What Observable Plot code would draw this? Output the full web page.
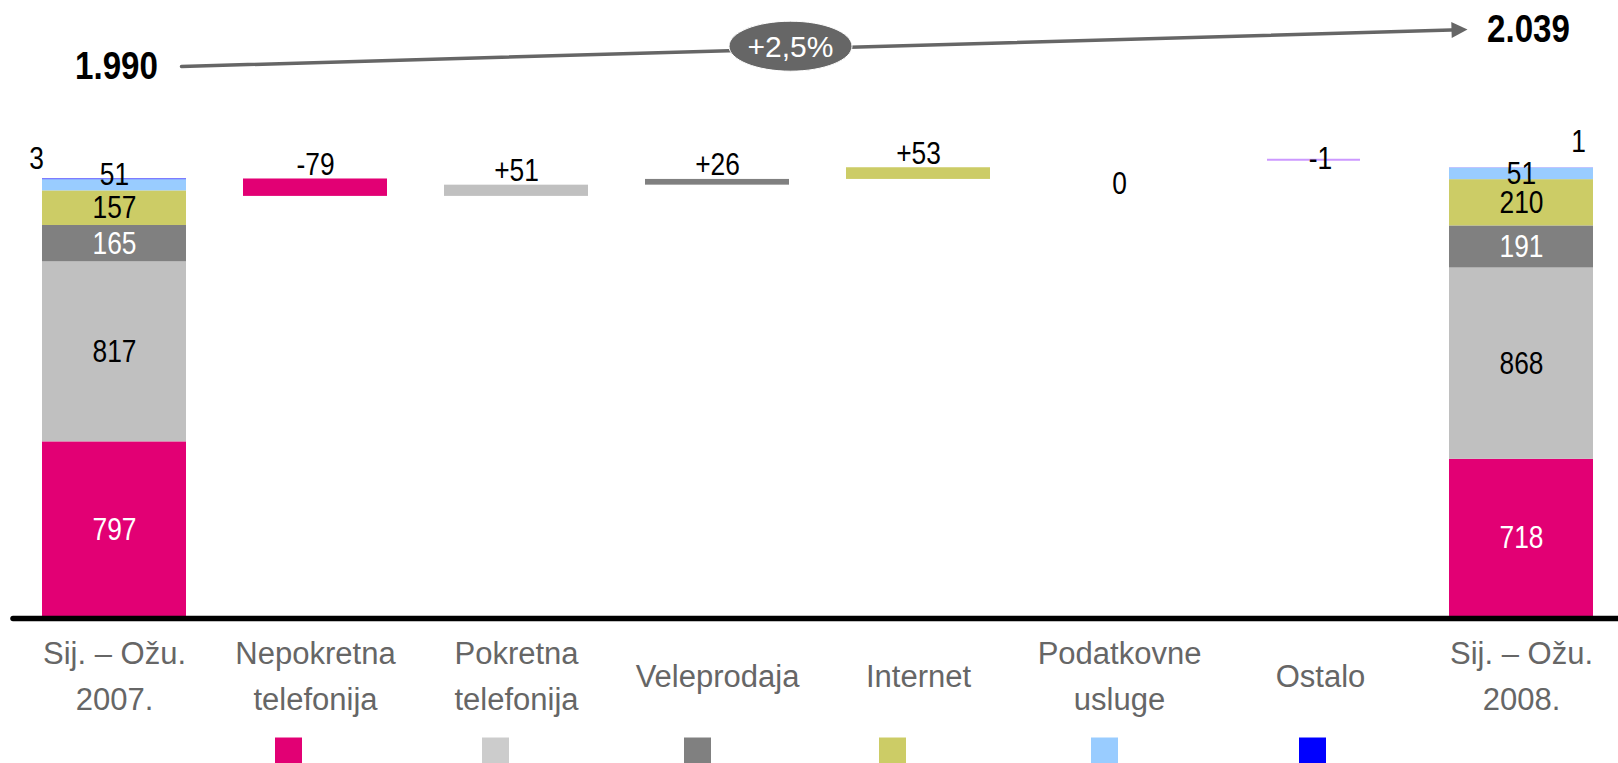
<!DOCTYPE html>
<html><head><meta charset="utf-8">
<script src="https://cdn.jsdelivr.net/npm/d3@7"></script>
<script src="https://cdn.jsdelivr.net/npm/@observablehq/plot@0.6"></script>
<style>
html,body{margin:0;padding:0;background:#fff;}
#wrap{position:relative;width:1618px;height:763px;overflow:hidden;}
#wrap svg{position:absolute;left:0;top:0;background:transparent;}
</style></head><body><div id="wrap"></div>
<script>
// ---- data ----
const categories = ["Sij. – Ožu.\n2007.", "Nepokretna\ntelefonija", "Pokretna\ntelefonija", "Veleprodaja", "Internet", "Podatkovne\nusluge", "Ostalo", "Sij. – Ožu.\n2008."];
const segments = ["Nepokretna telefonija", "Pokretna telefonija", "Veleprodaja", "Internet", "Podatkovne usluge", "Ostalo"];
const values2007 = [797, 817, 165, 157, 51, 3];
const values2008 = [718, 868, 191, 210, 51, 1];
const deltas = [-79, 51, 26, 53, 0, -1];
const total2007 = 1990;
const total2008 = 2039;
const segmentColors = ["#E20074", "#C0C0C0", "#808080", "#CCCC66", "#99CCFF", "#0000FF"];
const legendColors = ["#E20074", "#CCCCCC", "#808080", "#CCCC66", "#99CCFF", "#0000FF"];
const tinyColor = "#CC99FF";

// ---- derived tables ----
function stackRows(cat, vals) {
  let acc = 0, prevLabel = -Infinity;
  return vals.map((v, i) => {
    const mid = acc + v / 2;
    // nudge a label up when it would crowd the label below it
    const ly = (mid - prevLabel < 113) ? prevLabel + 150 : mid;
    prevLabel = ly;
    const r = {cat, i, v, y1: acc, y2: acc + v, ly};
    acc += v;
    return r;
  });
}
const stacks = [...stackRows(categories[0], values2007), ...stackRows(categories[7], values2008)];
let run = total2007;
const steps = deltas.map((d, i) => { const r = {cat: categories[i + 1], i, d, from: run, to: run + d}; run += d; return r; });
const fmtDelta = d => d > 0 ? "+" + d : String(d);
const hr = d3.formatLocale({decimal: ",", thousands: ".", grouping: [3], currency: ["", ""]});
const fmtTotal = hr.format(",");
const pct = "+" + hr.format(".1f")((total2008 / total2007 - 1) * 100) + "%";

const fontNum = "'Liberation Sans', numcond, Arial, sans-serif";
const fontBig = "'Liberation Sans', bigcond, Arial, sans-serif";
const fontCat = "'Liberation Sans', Arial, sans-serif";
const xOpts = {type: "band", domain: categories, paddingInner: 0.285, paddingOuter: 0, align: 0.5, axis: null};

const barSteps = steps.filter(s => Math.abs(s.d) >= 2);
const tinySteps = steps.filter(s => Math.abs(s.d) === 1);
const zeroSteps = steps.filter(s => s.d === 0);
const legendNudge = [-27, -21, -20, -26, -15, -8];

const main = Plot.plot({
  width: 1618, height: 763, marginLeft: 41, marginRight: 24, marginTop: 0, marginBottom: 146,
  x: xOpts,
  y: {domain: [0, 2800], axis: null},
  color: {type: "identity"},
  marks: [
    Plot.barY(stacks, {x: "cat", y1: "y1", y2: "y2", fill: d => segmentColors[d.i]}),
    Plot.barY(barSteps, {x: "cat", y1: "from", y2: "to", fill: d => segmentColors[d.i]}),
    Plot.tickY(tinySteps, {x: "cat", y: "from", stroke: tinyColor, strokeWidth: 2, insetLeft: 19, insetRight: 32, dy: -8}),
    Plot.text(stacks.filter(d => d.i < 5), {x: "cat", y: "ly", text: d => String(d.v),
      fill: d => (d.i === 0 || d.i === 2) ? "white" : "black", fontSize: 31, fontFamily: fontNum, lineAnchor: "middle"}),
    Plot.text(stacks.filter(d => d.i === 5 && d.cat === categories[0]), {x: "cat", y: "y2", text: d => String(d.v), dx: -78, dy: -20, fontSize: 31, fontFamily: fontNum, fill: "black", lineAnchor: "middle"}),
    Plot.text(stacks.filter(d => d.i === 5 && d.cat === categories[7]), {x: "cat", y: "y2", text: d => String(d.v), dx: 57, dy: -26, fontSize: 31, fontFamily: fontNum, fill: "black", lineAnchor: "middle"}),
    Plot.text(barSteps, {x: "cat", y: d => Math.max(d.from, d.to), text: d => fmtDelta(d.d), lineAnchor: "bottom", dy: -4, fontSize: 31, fontFamily: fontNum, fill: "black"}),
    Plot.text(zeroSteps, {x: "cat", y: "from", text: d => fmtDelta(d.d), lineAnchor: "top", dy: 4, fontSize: 31, fontFamily: fontNum, fill: "black"}),
    Plot.text(tinySteps, {x: "cat", y: "from", text: d => fmtDelta(d.d), lineAnchor: "middle", dy: -9, fontSize: 31, fontFamily: fontNum, fill: "black"}),
    Plot.text(categories, {x: d => d, y: () => 0, text: d => d, dy: 55, lineAnchor: "middle", lineHeight: 1.46, fontSize: 31, fontFamily: fontCat, fill: "#666"}),
    ...segments.map((s, i) => Plot.dot([s], {x: () => categories[i + 1], y: () => 0, dy: 133.5, dx: legendNudge[i], symbol: "square", r: 15.23, fill: legendColors[i], stroke: "none"})),
    Plot.ruleY([0], {stroke: "black", strokeWidth: 5.5, strokeLinecap: "round", insetLeft: -28, insetRight: -30, dy: 1})
  ]
});

// ---- header annotation ----
const hdr = [{a: categories[0], b: categories[7], v1: total2007, v2: total2008}];
const headSymbol = {draw(ctx) { ctx.moveTo(0, 0); ctx.lineTo(-16, -8); ctx.lineTo(-16, 8); ctx.closePath(); }};
const ellipseSymbol = {draw(ctx) {
  const rx = 61.5, ry = 25, k = 0.5523;
  ctx.moveTo(rx, 0);
  ctx.bezierCurveTo(rx, ry * k, rx * k, ry, 0, ry);
  ctx.bezierCurveTo(-rx * k, ry, -rx, ry * k, -rx, 0);
  ctx.bezierCurveTo(-rx, -ry * k, -rx * k, -ry, 0, -ry);
  ctx.bezierCurveTo(rx * k, -ry, rx, -ry * k, rx, 0);
  ctx.closePath();
}};
const header = Plot.plot({
  width: 1618, height: 110, marginLeft: 41, marginRight: 24, marginTop: 0, marginBottom: 0,
  x: xOpts,
  y: {domain: [1950, 2050], range: [100.9, 18.4], axis: null},
  marks: [
    Plot.arrow(hdr, {x1: "a", y1: "v1", x2: "b", y2: "v2", stroke: "#666", strokeWidth: 3.5, headLength: 0, insetStart: 67, insetEnd: 62}),
    Plot.dot(hdr, {x: "b", y: "v2", symbol: headSymbol, fill: "#666", stroke: "none", dx: -54, dy: 1.55, rotate: -1.65}),
    Plot.dot(hdr, {x: () => categories[3], y: d => (d.v1 + d.v2) / 2, symbol: ellipseSymbol, fill: "#666", stroke: "#fff", strokeWidth: 1, dx: 73, dy: -2}),
    Plot.text(hdr, {x: () => categories[3], y: d => (d.v1 + d.v2) / 2, text: () => pct, dx: 73, dy: -1, fill: "white", fontSize: 30, fontFamily: fontCat, lineAnchor: "middle"}),
    Plot.text(hdr, {x: "a", y: "v1", text: d => fmtTotal(d.v1), dx: 2, dy: -2, fontSize: 39, fontWeight: "bold", fontFamily: fontBig, fill: "black", lineAnchor: "middle"}),
    Plot.text(hdr, {x: "b", y: "v2", text: d => fmtTotal(d.v2), dx: 7, dy: 1.5, fontSize: 39, fontWeight: "bold", fontFamily: fontBig, fill: "black", lineAnchor: "middle"})
  ]
});

// condensed look for the figures (horizontal squeeze of the glyphs)
function squeeze(svg, marker, f) {
  svg.querySelectorAll("g[font-family*='" + marker + "'] text").forEach(t => {
    const tr = t.getAttribute("transform") || "";
    t.setAttribute("transform", tr + " scale(" + f + ",1)");
  });
}
squeeze(main, "numcond", 0.85);
squeeze(header, "bigcond", 0.85);

const wrap = document.getElementById("wrap");
wrap.append(main, header);
</script></body></html>
